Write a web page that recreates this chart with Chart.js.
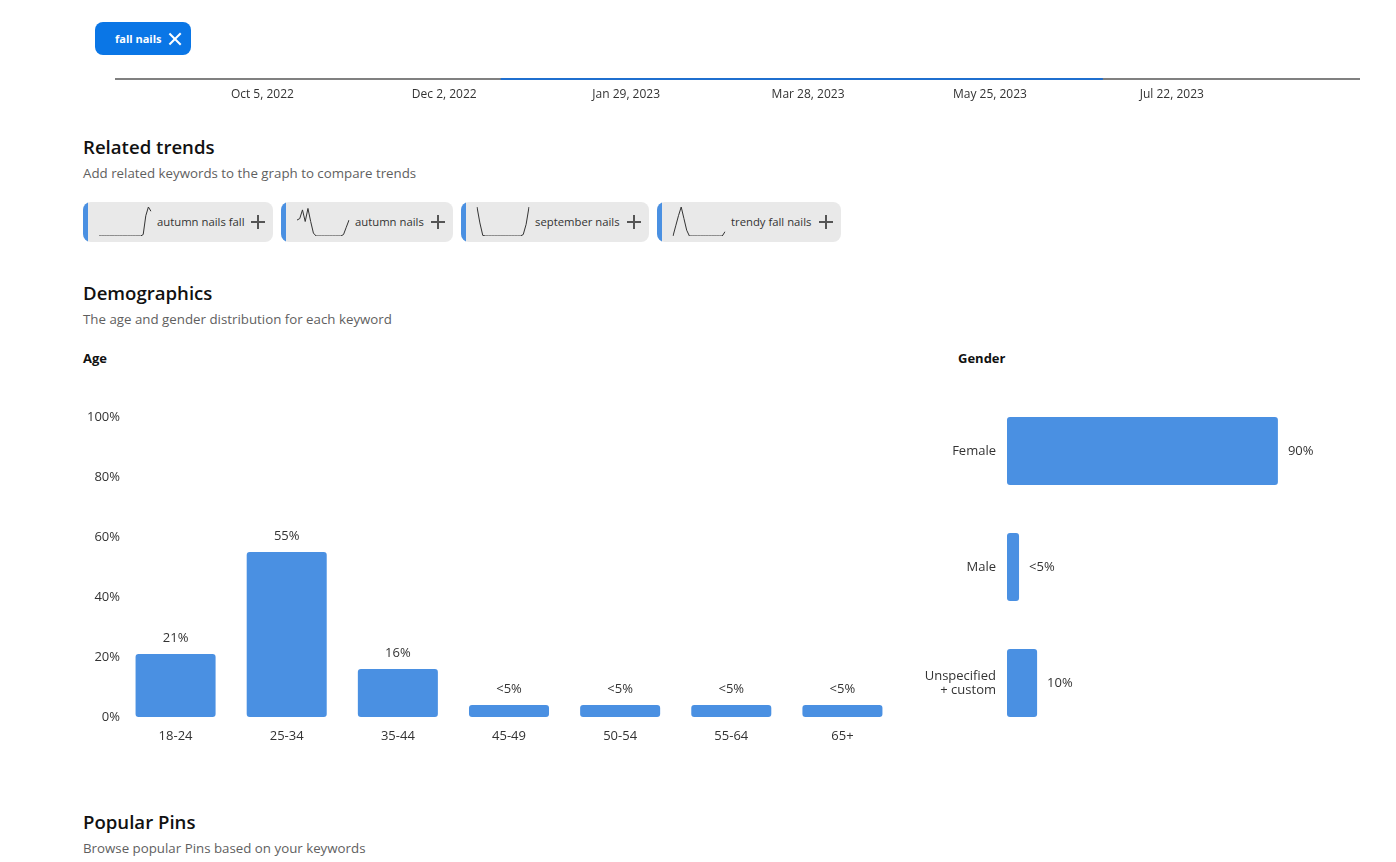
<!DOCTYPE html>
<html>
<head>
<meta charset="utf-8">
<script src="https://cdn.jsdelivr.net/npm/chart.js@4.4.1/dist/chart.umd.min.js"></script>
<style>
    body { margin: 0; width: 1396px; height: 862px; overflow: hidden; background: #fff;
           font-family: "Segoe UI", "Open Sans", sans-serif; color: #111; position: relative; }
    .abs { position: absolute; }
    .keyword-chip { left: 95px; top: 22px; width: 96px; height: 33px; background: #0a76e6; border-radius: 8px;
                    color: #fff; font-size: 11px; font-weight: 700; }
    .keyword-chip span { position: absolute; left: 20px; top: 9px; }
    .cross { position: absolute; left: 168px; top: 32px; width: 14px; height: 14px; }
    .cross::before, .cross::after { content: ''; position: absolute; left: 6px; top: -1px; width: 2.4px; height: 16px; background: #fff; }
    .cross::before { transform: rotate(45deg); }
    .cross::after { transform: rotate(-45deg); }
    h2 { position: absolute; margin: 0; left: 83px; font-size: 18.6px; font-weight: 600; color: #111; }
    .sub { position: absolute; left: 83px; font-size: 13.3px; color: #5f5f5f; }
    .label { position: absolute; font-size: 13px; font-weight: 700; color: #111; }
    .trend-chip { position: absolute; top: 202px; height: 40px; background: #e9e9e9; border-radius: 8px; overflow: hidden; }
    .trend-chip .stripe { position: absolute; left: 0; top: 0; width: 5px; height: 40px; background: #4a90e2; }
    .trend-chip canvas { position: absolute; left: 15px; top: 4px; }
    .trend-chip .name { position: absolute; left: 74px; top: 12px; font-size: 11.3px; color: #333; white-space: nowrap; }
    .plus { position: absolute; top: 13px; width: 14px; height: 14px; }
    .plus::before, .plus::after { content: ''; position: absolute; background: #555; }
    .plus::before { left: 6px; top: 0; width: 2.4px; height: 14px; }
    .plus::after { left: 0; top: 6px; width: 14px; height: 2.4px; }
</style>
</head>
<body>

<div class="abs keyword-chip"><span>fall nails</span></div>
<div class="cross"></div>
<canvas id="trendChart" class="abs" style="left:115px; top:0px;" width="1245" height="110"></canvas>

<h2 style="top:134px;">Related trends</h2>
<div class="sub" style="top:164px;">Add related keywords to the graph to compare trends</div>
<div id="related"></div>

<h2 style="top:280px;">Demographics</h2>
<div class="sub" style="top:310px;">The age and gender distribution for each keyword</div>
<div class="label" style="left:83px; top:349px;">Age</div>
<div class="label" style="left:958px; top:349px;">Gender</div>
<canvas id="ageChart" class="abs" style="left:80px; top:400px;" width="818" height="347"></canvas>
<canvas id="genderChart" class="abs" style="left:900px; top:393px;" width="430" height="348"></canvas>

<h2 style="top:809px;">Popular Pins</h2>
<div class="sub" style="top:839px;">Browse popular Pins based on your keywords</div>

<script>
// ---- data ----
const trendStart = '2022-08-19';
const trendEnd = '2023-09-20';
const trendTickDates = ['2022-10-05', '2022-12-02', '2023-01-29', '2023-03-28', '2023-05-25', '2023-07-22'];
const trendDates = ['2022-12-20', '2023-01-15', '2023-02-10', '2023-03-08', '2023-04-03', '2023-04-29', '2023-05-25', '2023-06-20', '2023-06-30'];
const trendValues = [0, 0, 0, 0, 0, 0, 0, 0, 0];

const relatedKeywords = ['autumn nails fall', 'autumn nails', 'september nails', 'trendy fall nails'];
const relatedLefts = [83, 281, 461, 657];
const relatedWidths = [190, 172, 188, 184];
const sparkAutumnFall = [0, 0, 0, 0, 0, 0, 0, 0, 0, 0, 0, 0, 0, 0, 0, 0, 0, 0.05, 0.7, 1, 0.85];
const sparkAutumn = [0.55, 0.6, 0.9, 0.5, 0.95, 0.5, 0.1, 0, 0, 0, 0, 0, 0, 0, 0, 0, 0, 0.05, 0.3, 0.55];
const sparkSeptember = [1, 0.45, 0.02, 0, 0, 0, 0, 0, 0, 0, 0, 0, 0, 0, 0, 0, 0.05, 0.4, 1];
const sparkTrendyFall = [0, 0.35, 0.7, 1, 0.6, 0.2, 0, 0, 0, 0, 0, 0, 0, 0, 0, 0, 0, 0, 0, 0.15];
const sparklines = [sparkAutumnFall, sparkAutumn, sparkSeptember, sparkTrendyFall];

const ageGroups = ['18-24', '25-34', '35-44', '45-49', '50-54', '55-64', '65+'];
const ageValues = [21, 55, 16, 4, 4, 4, 4];
const ageLabels = ['21%', '55%', '16%', '<5%', '<5%', '<5%', '<5%'];
const ageTicks = [0, 20, 40, 60, 80, 100];

const genders = ['Female', 'Male', ['Unspecified', '+ custom']];
const genderValues = [90, 4, 10];
const genderLabels = ['90%', '<5%', '10%'];

const barBlue = '#4a90e2';
Chart.defaults.font.family = '"Segoe UI", "Open Sans", sans-serif';
Chart.defaults.color = '#333';
Chart.defaults.animation = false;

function dayNum(s) {
    const p = s.split('-').map(Number);
    return Date.UTC(p[0], p[1] - 1, p[2]) / 86400000;
}

function formatDay(d) {
    return new Date(d * 86400000).toLocaleDateString('en-US', { month: 'short', day: 'numeric', year: 'numeric', timeZone: 'UTC' });
}

// ---- top trend chart (only the baseline part is on screen) ----
new Chart(document.getElementById('trendChart'), {
    type: 'line',
    data: {
        datasets: [{
            data: trendDates.map((d, i) => ({ x: dayNum(d), y: trendValues[i] })),
            borderColor: '#1f6fcf',
            borderWidth: 2,
            pointRadius: 0,
            clip: false
        }]
    },
    options: {
        responsive: false,
        plugins: { legend: { display: false }, tooltip: { enabled: false } },
        layout: { padding: 0 },
        scales: {
            x: {
                type: 'linear',
                min: dayNum(trendStart),
                max: dayNum(trendEnd),
                afterBuildTicks: scale => { scale.ticks = trendTickDates.map(d => ({ value: dayNum(d) })); },
                afterFit: scale => { scale.height = 31; },
                ticks: { callback: v => formatDay(v), autoSkip: false, maxRotation: 0, padding: 8, font: { size: 12 }, color: '#333' },
                grid: { display: false, drawTicks: false },
                border: { color: '#808080', width: 2 }
            },
            y: { display: false, min: 0, max: 10 }
        }
    }
});

// ---- related trend chips with sparklines ----
const related = document.getElementById('related');
relatedKeywords.forEach((kw, i) => {
    const chip = document.createElement('div');
    chip.className = 'trend-chip';
    chip.style.left = relatedLefts[i] + 'px';
    chip.style.width = relatedWidths[i] + 'px';
    chip.innerHTML = `
        <div class="stripe"></div>
        <canvas width="54" height="31"></canvas>
        <span class="name">${kw}</span>
        <div class="plus" style="left:${relatedWidths[i] - 22}px"></div>
    `;
    related.appendChild(chip);

    const values = sparklines[i];
    new Chart(chip.querySelector('canvas'), {
        type: 'line',
        data: {
            labels: values.map((v, j) => j),
            datasets: [{ data: values, borderColor: '#333', borderWidth: 1, pointRadius: 0, tension: 0 }]
        },
        options: {
            responsive: false,
            layout: { padding: 1 },
            plugins: { legend: { display: false }, tooltip: { enabled: false } },
            scales: { x: { display: false }, y: { display: false, min: 0, max: 1 } }
        }
    });
});

// draws the percentage text next to each bar
function valueLabels(texts, horizontal) {
    return {
        id: 'valueLabels',
        afterDatasetsDraw(chart) {
            const ctx = chart.ctx;
            ctx.save();
            ctx.font = '13px ' + Chart.defaults.font.family;
            ctx.fillStyle = '#333';
            ctx.textBaseline = 'middle';
            chart.getDatasetMeta(0).data.forEach((bar, i) => {
                if (horizontal) {
                    ctx.textAlign = 'left';
                    ctx.fillText(texts[i], bar.x + 10, bar.y);
                } else {
                    ctx.textAlign = 'center';
                    ctx.fillText(texts[i], bar.x, bar.y - 16);
                }
            });
            ctx.restore();
        }
    };
}

// ---- age chart ----
new Chart(document.getElementById('ageChart'), {
    type: 'bar',
    data: {
        labels: ageGroups,
        datasets: [{
            data: ageValues,
            backgroundColor: barBlue,
            borderRadius: 3,
            borderSkipped: false,
            categoryPercentage: 1,
            barPercentage: 0.72
        }]
    },
    options: {
        responsive: false,
        layout: { padding: { top: 17, right: 0, left: 0, bottom: 0 } },
        plugins: { legend: { display: false }, tooltip: { enabled: false } },
        scales: {
            x: {
                grid: { display: false, drawTicks: false },
                border: { display: false },
                afterFit: scale => { scale.height = 30; },
                ticks: { padding: 11, font: { size: 13 }, color: '#333' }
            },
            y: {
                min: 0,
                max: 100,
                afterBuildTicks: scale => { scale.ticks = ageTicks.map(v => ({ value: v })); },
                afterFit: scale => { scale.width = 40; },
                grid: { display: false, drawTicks: false },
                border: { display: false },
                ticks: { callback: v => v + '%', padding: 0, font: { size: 13 }, color: '#333' }
            }
        }
    },
    plugins: [valueLabels(ageLabels, false)]
});

// ---- gender chart ----
new Chart(document.getElementById('genderChart'), {
    type: 'bar',
    data: {
        labels: genders,
        datasets: [{
            data: genderValues,
            backgroundColor: barBlue,
            borderRadius: 3,
            borderSkipped: false,
            categoryPercentage: 1,
            barPercentage: 0.586
        }]
    },
    options: {
        indexAxis: 'y',
        responsive: false,
        layout: { padding: { top: 0, right: 22, left: 0, bottom: 0 } },
        plugins: { legend: { display: false }, tooltip: { enabled: false } },
        scales: {
            x: { display: false, min: 0, max: 100 },
            y: {
                afterFit: scale => {
                    scale.width = 107;
                    scale.paddingTop = 0;
                    scale.paddingBottom = 0;
                },
                grid: { display: false, drawTicks: false },
                border: { display: false },
                ticks: { padding: 11, font: { size: 13, lineHeight: 1.1 }, color: '#333' }
            }
        }
    },
    plugins: [valueLabels(genderLabels, true)]
});
</script>
</body>
</html>
